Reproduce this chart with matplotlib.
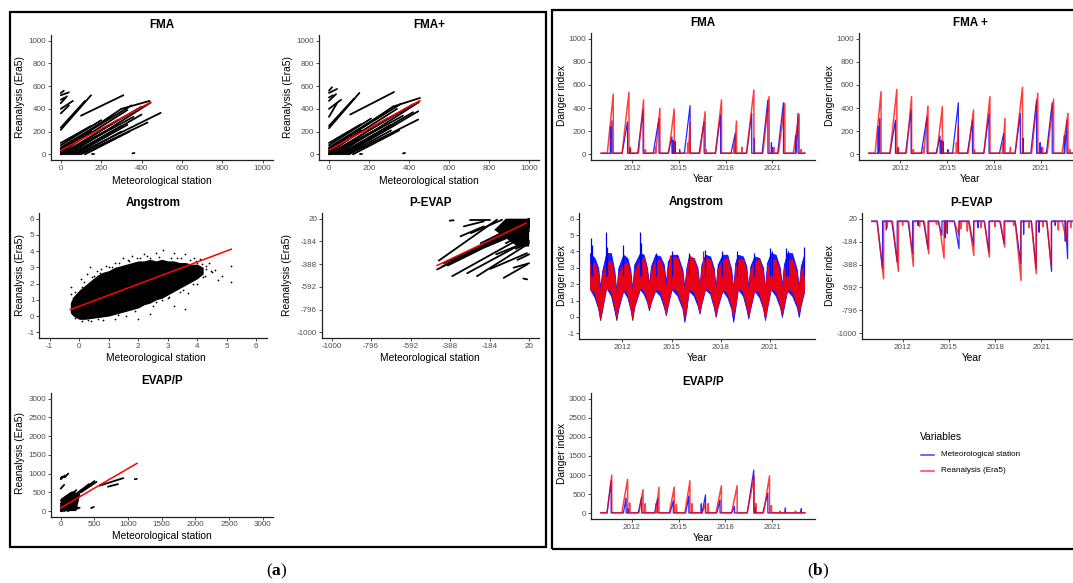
import numpy as np
import matplotlib
matplotlib.use('Agg')
import matplotlib.pyplot as plt
from matplotlib.lines import Line2D
from matplotlib.patches import Rectangle, Polygon

plt.rcParams['font.family'] = ['Liberation Sans', 'DejaVu Sans']
plt.rcParams['mathtext.fontset'] = 'custom'
plt.rcParams['mathtext.rm'] = 'Liberation Serif'
plt.rcParams['mathtext.bf'] = 'Liberation Serif:bold'
plt.rcParams['axes.unicode_minus'] = False

# ---------------- DATA ----------------
# Left: scatter (station x, reanalysis y) streaks (x0, y0, x1, y1)
fma_streaks = [
    (0, 40, 300, 400), (300, 400, 440, 470), (0, 20, 330, 390), (0, 0, 400, 420),
    (20, 0, 360, 330), (40, 0, 445, 455), (60, 0, 400, 350), (80, 0, 495, 365),
    (100, 0, 430, 280), (120, 0, 340, 200), (0, 60, 250, 330), (0, 80, 200, 300),
    (10, 0, 280, 300), (0, 10, 150, 200), (0, 30, 120, 180), (30, 0, 220, 200),
    (50, 0, 300, 250), (0, 50, 350, 430), (0, 0, 250, 230), (70, 0, 330, 260),
    (0, 100, 150, 250), (90, 0, 300, 200),
    (0, 215, 150, 520), (0, 235, 120, 470), (100, 340, 310, 520),
    (0, 360, 40, 430), (0, 400, 60, 470), (0, 450, 30, 510), (0, 520, 40, 545),
    (0, 480, 20, 500), (0, 540, 15, 560), (155, 0, 165, 0), (355, 8, 365, 12)]
fma_fit_x = [0, 445]
fma_fit_y = [35, 458]

fmap_streaks = [
    (0, 40, 320, 420), (320, 420, 455, 496), (0, 20, 340, 400), (0, 0, 420, 440),
    (20, 0, 370, 340), (40, 0, 450, 460), (60, 0, 420, 370), (80, 0, 446, 379),
    (100, 0, 446, 306), (120, 0, 350, 210), (0, 60, 260, 345), (0, 80, 210, 315),
    (10, 0, 290, 315), (0, 10, 160, 210), (0, 30, 125, 190), (30, 0, 230, 210),
    (50, 0, 310, 260), (0, 50, 360, 445), (0, 0, 260, 240), (70, 0, 340, 270),
    (0, 100, 160, 265), (90, 0, 310, 210),
    (0, 230, 152, 540), (0, 250, 125, 490), (106, 350, 325, 548),
    (0, 330, 40, 450), (0, 400, 60, 480), (0, 470, 35, 530), (0, 540, 40, 575),
    (0, 500, 20, 520), (0, 560, 15, 590), (155, 0, 165, 0), (370, 8, 380, 12)]
fmap_fit_x = [0, 454]
fmap_fit_y = [38, 472]

ang_cloud_x = [-0.3, -0.2, -0.1, 0.0, 0.2, 0.4, 0.6, 0.8, 1.0, 1.2, 1.4, 1.6, 1.8, 2.0, 2.2,
               2.4, 2.6, 2.8, 3.0, 3.2, 3.4, 3.6, 3.8, 4.0, 4.2]
ang_cloud_lo = [0.2, 0.0, -0.1, -0.2, -0.2, -0.15, -0.1, -0.05, 0.0, 0.1, 0.2, 0.3, 0.4, 0.5, 0.7,
                0.8, 1.0, 1.1, 1.3, 1.5, 1.7, 1.9, 2.1, 2.3, 2.6]
ang_cloud_hi = [0.8, 1.2, 1.4, 1.6, 1.9, 2.2, 2.5, 2.7, 2.8, 3.0, 3.1, 3.2, 3.3, 3.4, 3.4,
                3.5, 3.4, 3.5, 3.4, 3.4, 3.3, 3.3, 3.2, 3.2, 3.0]
ang_pts_x = [-0.28, -0.28, -0.2, 0.35, 0.28, 0.05, 0.6, 0.9, 1.2, 1.5, 1.8, 2.2, 2.6, 2.85,
             3.2, 3.6, 3.9, 4.1, 4.3, 4.4, 4.5, 4.6, 4.7, 4.85, 5.15, 5.15, 4.2, 4.0, 3.7,
             3.6, 3.2, 2.8, 2.4, 2.0, 1.6, 1.2, 0.8, 0.4, 0.1, -0.15, 0.5, 1.0, 2.5, 3.0,
             3.4, 1.7, 2.4, 3.3, 4.1, 4.0,
             -0.25, -0.15, 0.1, 0.15, 0.45, 0.7, 0.75, 1.1, 1.35, 1.65, 1.95, 2.05, 2.3, 2.7,
             3.1, 3.45, 3.75, 3.95, 4.15, 4.3, 0.3, 0.65, 1.3, 1.9, 2.6, 3.05, 3.5, 3.85, 4.25, 4.45]
ang_pts_y = [1.8, 1.35, 1.1, 3.0, 2.6, 2.3, 2.8, 3.1, 3.3, 3.6, 3.7, 3.8, 3.9, 4.05,
             3.9, 3.85, 3.6, 3.5, 3.1, 3.25, 2.7, 2.85, 2.2, 2.5, 3.1, 2.1, 2.4, 2.0, 1.4,
             0.45, 0.65, 1.0, 0.1, -0.15, 0.0, -0.2, -0.25, -0.28, -0.3, -0.1, 2.5, 3.0, 0.6,
             1.1, 1.5, 3.4, 3.6, 3.6, 2.8, 3.3,
             0.9, 1.5, 1.8, 2.1, 2.4, 2.65, 2.9, 3.0, 3.25, 3.45, 3.55, 3.6, 3.7, 3.65,
             3.6, 3.55, 3.45, 3.4, 3.2, 2.9, -0.25, -0.2, 0.05, 0.3, 0.85, 1.15, 1.6, 1.95, 2.5, 2.75]
ang_fit_x = [-0.3, 5.15]
ang_fit_y = [0.4, 4.12]

pev_streaks = [
    (-455, -436, 20, -10), (-446, -356, -146, 11), (-400, -400, 20, -40),
    (-350, -330, 20, -60), (-300, -300, 20, 0), (-250, -250, 20, -20),
    (-200, -180, 20, 20), (-377, -496, 9, -123), (-300, -470, 9, -180),
    (-249, -496, 9, -213), (-180, -430, 9, -290), (-111, -511, 9, -392),
    (-10, -517, 10, -525), (-390, 2, -370, 6), (-317, -49, -214, -4),
    (-334, -138, -214, -49), (-280, -110, -120, 10), (-283, 11, -180, 11),
    (-150, -300, 20, -180), (-50, -250, 20, -200), (-40, -350, 20, -300),
    (-60, -420, 20, -380), (-150, -150, 20, -10), (-100, -200, 20, -90),
    (-420, -380, 20, -30), (-430, -410, 20, -25), (-380, -350, 20, -50),
    (-330, -320, 20, -30), (-280, -270, 20, -10), (-230, -200, 20, 10),
    (-200, -230, 20, -70), (-160, -180, 20, -40)]
pev_blob_x = [-100, 20, 20, -40, -160]
pev_blob_y = [20, 20, -230, -230, -80]
pev_fit_x = [-455, 5]
pev_fit_y = [-400, -19]

evp_streaks = [
    (0, 0, 250, 450), (0, 50, 300, 550), (0, 100, 230, 560), (0, 150, 200, 520),
    (0, 200, 180, 500), (0, 280, 150, 480), (20, 0, 280, 400), (50, 0, 250, 250),
    (0, 0, 200, 100), (100, 0, 250, 100), (250, 450, 500, 800), (300, 500, 530, 780),
    (200, 420, 420, 720), (0, 600, 50, 700), (0, 850, 60, 950), (60, 900, 110, 1000),
    (0, 880, 20, 920), (580, 680, 930, 880), (700, 650, 850, 720), (1100, 850, 1130, 860),
    (240, 60, 280, 90), (450, 80, 490, 110)]
evp_blob_x = [0, 230, 290, 160, 0]
evp_blob_y = [0, 0, 450, 520, 330]
evp_fit_x = [0, 1133]
evp_fit_y = [88, 1274]

# Right: time series keypoints (decimal year)
ts_start, ts_end = 2010.0, 2023.1

fma_red_start = [2010.40, 2011.35, 2012.40, 2013.40, 2014.35, 2015.40, 2016.35, 2017.35, 2018.40, 2019.35, 2020.40, 2021.40, 2022.35]
fma_red_peak_t = [2010.78, 2011.79, 2012.73, 2013.78, 2014.70, 2015.72, 2016.69, 2017.74, 2018.70, 2019.82, 2020.80, 2021.81, 2022.73]
fma_red_peak_v = [519, 536, 470, 397, 391, 280, 368, 470, 287, 557, 499, 441, 345]
fma_blue_start = [2010.35, 2011.35, 2012.35, 2013.35, 2014.30, 2015.35, 2016.30, 2017.35, 2018.35, 2019.35, 2020.35, 2021.35, 2022.35]
fma_blue_peak_t = [2010.70, 2011.70, 2012.70, 2013.72, 2014.55, 2015.72, 2016.62, 2017.68, 2018.62, 2019.68, 2020.72, 2021.72, 2022.66]
fma_blue_peak_v = [290, 281, 383, 310, 150, 420, 281, 340, 180, 354, 470, 446, 354]
fma_blue_spk_t = [2010.60, 2011.85, 2014.62, 2014.75, 2015.05, 2019.85, 2020.95, 2021.00, 2022.50]
fma_blue_spk_v = [240, 50, 120, 110, 40, 140, 100, 60, 160]
fma_red_spk_t = [2011.88, 2012.85, 2013.50, 2015.60, 2016.75, 2018.55, 2019.05, 2021.10, 2022.85]
fma_red_spk_v = [60, 40, 60, 100, 40, 90, 60, 60, 40]

fmap_red_peak_v = [542, 562, 499, 417, 412, 250, 383, 499, 310, 580, 528, 478, 354]
fmap_blue_peak_v = [310, 296, 383, 325, 157, 446, 296, 354, 180, 354, 470, 446, 296]

ang_t = [2010.02, 2010.30, 2010.52, 2010.64, 2010.76,
         2011.01, 2011.30, 2011.51, 2011.63, 2011.75,
         2012.05, 2012.30, 2012.48, 2012.60, 2012.72,
         2013.07, 2013.30, 2013.50, 2013.62, 2013.74,
         2014.00, 2014.30, 2014.53, 2014.65, 2014.77,
         2015.00, 2015.35, 2015.66, 2015.78, 2015.90,
         2016.05, 2016.35, 2016.58, 2016.70, 2016.82,
         2017.05, 2017.35, 2017.57, 2017.69, 2017.81,
         2018.10, 2018.40, 2018.64, 2018.76, 2018.88,
         2019.05, 2019.35, 2019.56, 2019.68, 2019.80,
         2020.05, 2020.35, 2020.58, 2020.70, 2020.82,
         2021.05, 2021.35, 2021.61, 2021.73, 2021.85,
         2022.05, 2022.35, 2022.64, 2022.76, 2022.88,
         2023.08]
ang_blue_hi = [3.9, 3.6, 3.0, 1.8, 2.8, 3.9, 3.9, 2.8, 1.6, 3.0, 3.8, 3.6, 2.9, 1.7, 3.2,
               3.9, 3.8, 3.0, 2.0, 3.1, 3.8, 3.7, 3.2, 2.1, 3.4, 3.8, 3.8, 2.9, 1.8, 3.0,
               3.7, 3.6, 3.0, 1.9, 3.2, 3.8, 3.7, 3.0, 1.8, 3.2, 3.8, 3.8, 2.9, 1.7, 3.3,
               3.8, 3.7, 3.1, 1.8, 3.1, 3.7, 3.6, 3.0, 1.7, 3.3, 3.9, 3.8, 3.0, 1.9, 3.2,
               3.9, 3.9, 2.9, 1.8, 3.1, 3.8]
ang_blue_lo = [1.7, 1.2, 0.5, -0.2, 0.4, 1.8, 1.3, 0.4, -0.2, 0.5, 1.6, 1.2, 0.5, -0.2, 0.6,
               1.7, 1.4, 0.9, 0.4, 0.9, 1.6, 1.3, 0.6, 0.1, 0.7, 1.7, 1.3, 0.5, -0.3, 0.4,
               1.6, 1.3, 0.7, 0.2, 0.8, 1.7, 1.4, 0.6, 0.0, 0.6, 1.6, 1.2, 0.5, -0.3, 0.5,
               1.7, 1.3, 0.5, -0.1, 0.5, 1.6, 1.2, 0.5, -0.2, 0.5, 1.7, 1.3, 0.6, 0.0, 0.6,
               1.6, 1.3, 0.6, 0.0, 0.7, 1.5]
ang_red_hi = [3.3, 3.3, 2.6, 1.4, 2.5, 3.4, 3.4, 2.5, 1.3, 2.6, 3.2, 3.3, 2.6, 1.4, 2.7,
              3.5, 3.6, 2.8, 1.7, 2.8, 3.4, 3.5, 2.8, 1.6, 3.0, 3.7, 3.6, 2.6, 1.5, 2.7,
              3.5, 3.6, 2.7, 1.6, 2.9, 3.6, 3.5, 2.7, 1.5, 2.9, 3.5, 3.6, 2.6, 1.4, 2.9,
              3.5, 3.5, 2.8, 1.5, 2.8, 3.4, 3.5, 2.7, 1.4, 2.9, 3.5, 3.5, 2.7, 1.6, 2.9,
              3.4, 3.5, 2.6, 1.5, 2.8, 3.1]
ang_red_lo = [1.7, 1.5, 0.6, -0.1, 0.6, 1.8, 1.6, 0.6, 0.0, 0.7, 1.7, 1.5, 0.6, -0.1, 0.7,
              1.8, 1.7, 1.0, 0.5, 1.0, 1.7, 1.6, 0.8, 0.2, 0.8, 1.8, 1.6, 0.7, 0.0, 0.6,
              1.7, 1.6, 0.9, 0.3, 0.9, 1.8, 1.6, 0.8, 0.1, 0.7, 1.7, 1.5, 0.7, 0.1, 0.7,
              1.8, 1.6, 0.7, 0.1, 0.7, 1.7, 1.5, 0.6, -0.1, 0.6, 1.8, 1.6, 0.8, 0.2, 0.8,
              1.7, 1.6, 0.8, 0.3, 0.9, 1.6]
ang_blue_spk_t = [2010.07, 2010.15, 2011.01, 2011.08, 2012.05, 2013.07, 2013.12, 2014.05, 2015.00,
                  2016.05, 2017.05, 2018.10, 2019.00, 2020.00, 2021.00, 2021.10, 2022.00, 2022.10, 2023.05]
ang_blue_spk_v = [4.8, 4.4, 5.2, 4.3, 4.4, 5.2, 4.5, 3.9, 4.0, 3.9, 4.1, 4.0, 4.0, 3.9, 4.2, 4.0, 4.2, 4.0, 4.3]
ang_red_spk_t = [2016.90, 2016.10, 2014.90]
ang_red_spk_v = [4.0, 3.8, 3.8]

pe_red_start = [2010.35, 2011.35, 2012.40, 2013.40, 2014.35, 2015.35, 2016.30, 2017.30, 2018.35, 2019.30, 2020.35, 2021.35, 2022.35]
pe_red_peak_t = [2010.77, 2011.73, 2012.70, 2013.70, 2014.69, 2015.66, 2016.62, 2017.63, 2018.62, 2019.68, 2020.67, 2021.64, 2022.66]
pe_red_peak_v = [-514, -449, -404, -291, -330, -128, -306, -321, -232, -529, -469, -390, -188]
pe_blue_start = [2010.35, 2011.30, 2012.35, 2013.35, 2014.30, 2015.35, 2016.30, 2017.30, 2018.30, 2019.30, 2020.35, 2021.35, 2022.40]
pe_blue_peak_t = [2010.70, 2011.65, 2012.65, 2013.65, 2014.55, 2015.66, 2016.60, 2017.60, 2018.58, 2019.66, 2020.66, 2021.66, 2022.70]
pe_blue_peak_v = [-425, -365, -291, -247, -128, -247, -217, -277, -200, -380, -425, -449, -336]
pe_red_spk_t = [2011.00, 2012.00, 2013.10, 2014.20, 2014.85, 2015.80, 2016.20, 2017.10, 2018.00, 2019.20, 2020.20, 2021.10, 2022.10, 2022.90]
pe_red_spk_v = [-60, -40, -50, -30, -80, -70, -90, -60, -50, -40, -60, -50, -80, -60]
pe_blue_spk_t = [2010.95, 2013.00, 2014.75, 2014.90, 2016.90, 2019.85, 2020.85, 2021.90, 2022.55]
pe_blue_spk_v = [-80, -40, -150, -110, -60, -120, -100, -40, -180]

ep_red_start = [2010.40, 2011.35, 2012.45, 2013.45, 2014.40, 2015.40, 2016.50, 2017.40, 2018.40, 2019.40, 2020.45]
ep_red_peak_t = [2010.70, 2011.72, 2012.71, 2013.73, 2014.71, 2015.72, 2016.72, 2017.74, 2018.75, 2019.84, 2020.83]
ep_red_peak_v = [1000, 890, 620, 680, 680, 850, 250, 720, 720, 970, 980]
ep_blue_start = [2010.40, 2011.45, 2012.40, 2013.45, 2014.45, 2015.45, 2016.50, 2017.45, 2018.40, 2019.40, 2020.40, 2021.82, 2022.84]
ep_blue_peak_t = [2010.66, 2011.62, 2012.62, 2013.65, 2014.65, 2015.65, 2016.72, 2017.65, 2018.58, 2019.82, 2020.72, 2021.85, 2022.87]
ep_blue_peak_v = [850, 400, 420, 400, 330, 450, 480, 350, 180, 1130, 530, 140, 120]
ep_red_spk_t = [2011.85, 2012.85, 2013.55, 2014.85, 2015.85, 2016.90, 2019.95, 2020.95, 2021.50, 2022.50]
ep_red_spk_v = [270, 250, 250, 230, 250, 250, 250, 200, 60, 60]
ep_blue_spk_t = [2011.75, 2016.45, 2019.90]
ep_blue_spk_v = [120, 250, 150]

legend_labels = ['Meteorological station', 'Reanalysis (Era5)']
fma_ticks = [0, 200, 400, 600, 800, 1000]
ang_ticks = [-1, 0, 1, 2, 3, 4, 5, 6]
pe_ticks = [-1000, -796, -592, -388, -184, 20]
ep_ticks = [0, 500, 1000, 1500, 2000, 2500, 3000]
year_ticks = [2012, 2015, 2018, 2021]

# ---------------- FIGURE ----------------
W, H = 1073, 583
fig = plt.figure(figsize=(W / 100, H / 100), dpi=100)

BLUE = '#0000FF'
RED = '#FF0000'
TICK_FS = 5.8


def add_ax(l, t, r, b):
    ax = fig.add_axes([l / W, 1 - b / H, (r - l) / W, (b - t) / H])
    for s in ['top', 'right']:
        ax.spines[s].set_visible(False)
    for s in ['left', 'bottom']:
        ax.spines[s].set_linewidth(0.9)
        ax.spines[s].set_color('#222222')
    ax.tick_params(length=2.2, width=0.6, color='#333333', labelsize=TICK_FS,
                   labelcolor='#4D4D4D', pad=1.2)
    ax.patch.set_alpha(0)
    return ax


def ftext(x, y, s, **kw):
    kw.setdefault('ha', 'center')
    kw.setdefault('va', 'center')
    fig.text(x / W, 1 - y / H, s, **kw)


def scatter_panel(ax, streaks, fit_x, fit_y, lims, ticks):
    for (x0, y0, x1, y1) in streaks:
        ax.plot([x0, x1], [y0, y1], color='black', lw=1.3, solid_capstyle='round')
    ax.plot(fit_x, fit_y, color=RED, lw=1.1)
    ax.set_xlim(lims)
    ax.set_ylim(lims)
    ax.set_xticks(ticks)
    ax.set_yticks(ticks)


def season_series(starts, peak_t, peak_v, spk_t, spk_v, base):
    pts = [(ts_start, base), (ts_end, base)]
    for s, t, v in zip(starts, peak_t, peak_v):
        pts += [(s, base), (t, v), (t + 0.004, base)]
    for t, v in zip(spk_t, spk_v):
        pts += [(t - 0.015, base), (t, v), (t + 0.015, base)]
    pts.sort()
    return [p[0] for p in pts], [p[1] for p in pts]


def ts_axes(ax, lims, ticks, xlim):
    ax.set_ylim(lims)
    ax.set_yticks(ticks)
    ax.set_xlim(xlim)
    ax.set_xticks(year_ticks)
    ax.set_xticklabels([str(y) for y in year_ticks])


# ----- left panel -----
ax = add_ax(50.7, 35, 272.7, 160)
scatter_panel(ax, fma_streaks, fma_fit_x, fma_fit_y, (-50, 1050), fma_ticks)
ftext(161.7, 24.5, 'FMA', fontsize=8.4, fontweight='bold')
ftext(161.7, 180.5, 'Meteorological station', fontsize=7.4)
ftext(20, 96.7, 'Reanalysis (Era5)', fontsize=7.4, rotation=90)

ax = add_ax(319, 35, 539, 160)
scatter_panel(ax, fmap_streaks, fmap_fit_x, fmap_fit_y, (-50, 1050), fma_ticks)
ftext(429, 24.5, 'FMA+', fontsize=8.4, fontweight='bold')
ftext(429, 180.5, 'Meteorological station', fontsize=7.4)
ftext(288.3, 96.7, 'Reanalysis (Era5)', fontsize=7.4, rotation=90)

ax = add_ax(39.3, 213, 266.7, 338)
ax.fill_between(ang_cloud_x, ang_cloud_lo, ang_cloud_hi, color='black', lw=0)
ax.scatter(ang_pts_x, ang_pts_y, s=1.6, color='black', lw=0)
ax.plot(ang_fit_x, ang_fit_y, color=RED, lw=1.1)
ax.set_xlim(-1.35, 6.35)
ax.set_ylim(-1.35, 6.35)
ax.set_xticks(ang_ticks)
ax.set_yticks(ang_ticks)
ftext(153, 202.8, 'Angstrom', fontsize=8.4, fontweight='bold')
ftext(155.7, 358.3, 'Meteorological station', fontsize=7.4)
ftext(20, 275, 'Reanalysis (Era5)', fontsize=7.4, rotation=90)

ax = add_ax(321.7, 213, 539, 338)
ax.add_patch(Polygon(list(zip(pev_blob_x, pev_blob_y)), closed=True, color='black', lw=0))
scatter_panel(ax, pev_streaks, pev_fit_x, pev_fit_y, (-1051, 71), pe_ticks)
ftext(430, 202.5, 'P-EVAP', fontsize=8.4, fontweight='bold')
ftext(430, 358.3, 'Meteorological station', fontsize=7.4)
ftext(287.3, 275, 'Reanalysis (Era5)', fontsize=7.4, rotation=90)

ax = add_ax(50.7, 393, 272.7, 516.7)
ax.add_patch(Polygon(list(zip(evp_blob_x, evp_blob_y)), closed=True, color='black', lw=0))
scatter_panel(ax, evp_streaks, evp_fit_x, evp_fit_y, (-150, 3150), ep_ticks)
ftext(161.7, 380.8, 'EVAP/P', fontsize=8.4, fontweight='bold')
ftext(161.7, 535.7, 'Meteorological station', fontsize=7.4)
ftext(20, 453.3, 'Reanalysis (Era5)', fontsize=7.4, rotation=90)

# ----- right panel -----
XL = (2009.35, 2023.75)
XL_CUT = (2009.37, 2023.05)

ax = add_ax(591, 33, 815, 160)
bx, by = season_series(fma_blue_start, fma_blue_peak_t, fma_blue_peak_v, fma_blue_spk_t, fma_blue_spk_v, 8)
rx, ry = season_series(fma_red_start, fma_red_peak_t, fma_red_peak_v, fma_red_spk_t, fma_red_spk_v, 10)
ax.plot(bx, by, color=BLUE, lw=0.9, alpha=0.85)
ax.plot(rx, ry, color=RED, lw=1.1, alpha=0.75)
ts_axes(ax, (-50, 1050), fma_ticks, XL)
ftext(703, 22.5, 'FMA', fontsize=8.4, fontweight='bold')
ftext(703, 179.3, 'Year', fontsize=7.4)
ftext(561.7, 95, 'Danger index', fontsize=7.4, rotation=90)

ax = add_ax(859, 33, 1073, 160)
bx, by = season_series(fma_blue_start, fma_blue_peak_t, fmap_blue_peak_v, fma_blue_spk_t, fma_blue_spk_v, 8)
rx, ry = season_series(fma_red_start, fma_red_peak_t, fmap_red_peak_v, fma_red_spk_t, fma_red_spk_v, 10)
ax.plot(bx, by, color=BLUE, lw=0.9, alpha=0.85)
ax.plot(rx, ry, color=RED, lw=1.1, alpha=0.75)
ts_axes(ax, (-50, 1050), fma_ticks, XL_CUT)
ftext(970.7, 22.5, 'FMA +', fontsize=8.4, fontweight='bold')
ftext(970, 179.3, 'Year', fontsize=7.4)
ftext(830, 95, 'Danger index', fontsize=7.4, rotation=90)

ax = add_ax(579, 213, 815, 339)
ax.fill_between(ang_t, ang_blue_lo, ang_blue_hi, color=BLUE, lw=0.6, alpha=0.9)
ax.vlines(ang_blue_spk_t, 2.5, ang_blue_spk_v, color=BLUE, lw=0.9)
ax.fill_between(ang_t, ang_red_lo, ang_red_hi, color=RED, lw=0.6, alpha=0.9)
ax.vlines(ang_red_spk_t, 2.5, ang_red_spk_v, color=RED, lw=0.9)
ts_axes(ax, (-1.35, 6.35), ang_ticks, XL)
ftext(696.7, 202.5, 'Angstrom', fontsize=8.4, fontweight='bold')
ftext(696.7, 358.3, 'Year', fontsize=7.4)
ftext(561.7, 275, 'Danger index', fontsize=7.4, rotation=90)

ax = add_ax(862, 213, 1073, 339)
bx, by = season_series(pe_blue_start, pe_blue_peak_t, pe_blue_peak_v, pe_blue_spk_t, pe_blue_spk_v, 0)
rx, ry = season_series(pe_red_start, pe_red_peak_t, pe_red_peak_v, pe_red_spk_t, pe_red_spk_v, -5)
ax.plot(bx, by, color=BLUE, lw=0.9, alpha=0.85)
ax.plot(rx, ry, color=RED, lw=1.1, alpha=0.75)
ts_axes(ax, (-1051, 71), pe_ticks, XL_CUT)
ftext(971.7, 202.5, 'P-EVAP', fontsize=8.4, fontweight='bold')
ftext(971.7, 358.3, 'Year', fontsize=7.4)
ftext(830, 275, 'Danger index', fontsize=7.4, rotation=90)

ax = add_ax(590.7, 393, 815, 519)
bx, by = season_series(ep_blue_start, ep_blue_peak_t, ep_blue_peak_v, ep_blue_spk_t, ep_blue_spk_v, 10)
rx, ry = season_series(ep_red_start, ep_red_peak_t, ep_red_peak_v, ep_red_spk_t, ep_red_spk_v, 15)
ax.plot(bx, by, color=BLUE, lw=0.9, alpha=0.85)
ax.plot(rx, ry, color=RED, lw=1.1, alpha=0.75)
ts_axes(ax, (-150, 3150), ep_ticks, XL)
ftext(702.7, 382, 'EVAP/P', fontsize=8.4, fontweight='bold')
ftext(702.7, 538.3, 'Year', fontsize=7.4)
ftext(561.7, 453, 'Danger index', fontsize=7.4, rotation=90)

# legend
ftext(920, 436.7, 'Variables', fontsize=7.4, ha='left')
for yy, col, lab in [(455, BLUE, legend_labels[0]), (470.7, RED, legend_labels[1])]:
    fig.add_artist(Line2D([920.7 / W, 934 / W], [1 - yy / H, 1 - yy / H], color=col, lw=1.1, alpha=0.75))
    ftext(940.7, yy, lab, fontsize=5.9, ha='left')

# panel boxes
fig.add_artist(Rectangle((10 / W, 1 - 547 / H), 536 / W, 535 / H, fill=False, lw=1.6,
                         edgecolor='black', transform=fig.transFigure))
fig.add_artist(Rectangle((552 / W, 1 - 549 / H), 540 / W, 539 / H, fill=False, lw=1.6,
                         edgecolor='black', transform=fig.transFigure, clip_on=False))

ftext(277, 571, r'$\mathrm{(}\mathbf{a}\mathrm{)}$', fontsize=12.5)
ftext(818, 571, r'$\mathrm{(}\mathbf{b}\mathrm{)}$', fontsize=12.5)

fig.savefig('out.png', dpi=100, facecolor='white')
